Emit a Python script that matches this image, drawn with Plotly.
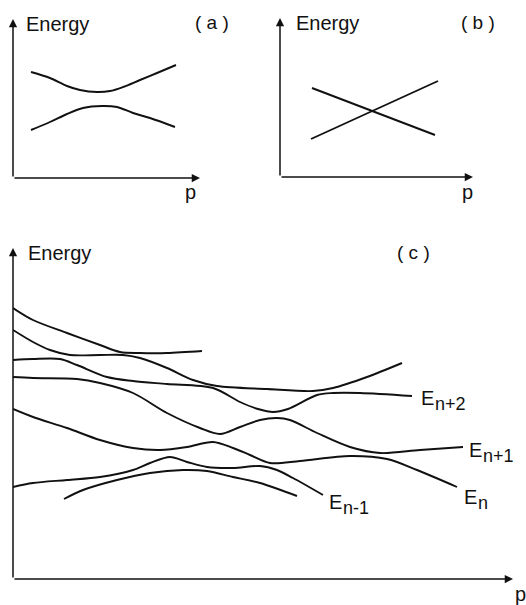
import plotly.graph_objects as go

# ---- (a) avoided crossing: two repelling levels (arbitrary units) ----
a_upper_p = [18, 37, 54, 67, 84, 97, 110, 127, 144, 163]
a_upper_E = [106, 100, 92, 88, 86, 87, 91, 98, 105, 113]
a_lower_p = [18, 37, 54, 70, 89, 104, 120, 137, 162]
a_lower_E = [48, 56, 64, 70, 72, 71, 65, 60, 51]

# ---- (b) true crossing: two straight levels ----
b_down_p = [32, 155]
b_down_E = [89, 42]
b_up_p = [31, 158]
b_up_E = [38, 96]

# ---- (c) many levels with successive avoided crossings ----
c_curves = {
    "A": ([0, 20, 54, 87, 107, 127, 154, 189],
          [271, 259, 246, 234, 227, 226, 226, 228]),
    "B": ([0, 20, 37, 57, 87, 110, 127, 154, 180, 204, 254, 300, 320, 354, 389],
          [249, 237, 229, 224, 224, 224, 221, 211, 199, 193, 190, 188, 191, 202, 216]),
    "E_n+2": ([0, 20, 47, 64, 94, 120, 154, 200, 227, 245, 260, 275, 304, 320, 347, 399],
              [219, 220, 220, 214, 202, 198, 195, 191, 177, 170, 167, 170, 184, 186, 186, 183]),
    "E_n+1": ([0, 20, 64, 87, 120, 154, 187, 207, 227, 247, 264, 277, 304, 337, 367, 407, 450],
              [202, 201, 200, 196, 186, 166, 151, 145, 152, 159, 161, 159, 146, 132, 126, 129, 132]),
    "E_n": ([0, 20, 54, 87, 120, 147, 174, 200, 220, 237, 257, 287, 337, 374, 404, 444],
            [170, 162, 151, 139, 131, 129, 132, 137, 131, 124, 116, 118, 123, 120, 109, 92]),
    "E_n-1": ([0, 20, 54, 87, 120, 137, 157, 174, 194, 220, 247, 264, 280, 310],
              [92, 96, 99, 102, 109, 116, 122, 117, 112, 111, 113, 109, 101, 84]),
    "G": ([51, 70, 104, 137, 170, 194, 220, 247, 284],
          [80, 89, 99, 106, 109, 108, 102, 96, 83]),
}

# level labels: (main, subscript, p, E)
c_labels = [
    ("E", "n+2", 407, 183),
    ("E", "n+1", 455, 131),
    ("E", "n", 450, 84),
    ("E", "n-1", 315, 79),
]

W, H = 526, 605
FONT = "Liberation Sans, Arial, sans-serif"
INK = "#111111"


def px_dom_x(x0, x1):
    return [x0 / W, x1 / W]


def px_dom_y(top, bottom):
    return [1 - bottom / H, 1 - top / H]


fig = go.Figure()

line_style = dict(color=INK, width=1.9, shape="spline", smoothing=0.9)

for p, E in [(a_upper_p, a_upper_E), (a_lower_p, a_lower_E)]:
    fig.add_trace(go.Scatter(x=p, y=E, mode="lines", line=line_style,
                             xaxis="x", yaxis="y", hoverinfo="skip"))
for p, E in [(b_down_p, b_down_E), (b_up_p, b_up_E)]:
    fig.add_trace(go.Scatter(x=p, y=E, mode="lines", line=dict(color=INK, width=1.9),
                             xaxis="x2", yaxis="y2", hoverinfo="skip"))
for name, (p, E) in c_curves.items():
    fig.add_trace(go.Scatter(x=p, y=E, mode="lines", line=line_style, name=name,
                             xaxis="x3", yaxis="y3", hoverinfo="skip"))

hidden = dict(showgrid=False, zeroline=False, showline=False, showticklabels=False,
              ticks="", fixedrange=True)

fig.update_layout(
    width=W, height=H,
    margin=dict(l=0, r=0, t=0, b=0),
    paper_bgcolor="white", plot_bgcolor="rgba(0,0,0,0)",
    showlegend=False,
    xaxis=dict(domain=px_dom_x(13, 213), range=[0, 200], anchor="y", **hidden),
    yaxis=dict(domain=px_dom_y(10, 178), range=[0, 168], anchor="x", **hidden),
    xaxis2=dict(domain=px_dom_x(280, 500), range=[0, 220], anchor="y2", **hidden),
    yaxis2=dict(domain=px_dom_y(10, 177), range=[0, 167], anchor="x2", **hidden),
    xaxis3=dict(domain=px_dom_x(13, 526), range=[0, 513], anchor="y3", **hidden),
    yaxis3=dict(domain=px_dom_y(240, 579), range=[0, 339], anchor="x3", **hidden),
)

annotations = []


def axis_arrows(xr, yr, x_end, y_end):
    for (x, y) in [(x_end, 0), (0, y_end)]:
        annotations.append(dict(
            xref=xr, yref=yr, axref=xr, ayref=yr, x=x, y=y, ax=0, ay=0,
            text="", showarrow=True, arrowhead=2, arrowsize=1.1, arrowwidth=1.5,
            arrowcolor=INK, standoff=0, startstandoff=0))


axis_arrows("x", "y", 187, 159)
axis_arrows("x2", "y2", 193, 159)
axis_arrows("x3", "y3", 500, 331)


def paper_text(text, x, y, xanchor="left", size=20):
    annotations.append(dict(xref="paper", yref="paper", x=x / W, y=1 - y / H,
                            text=text, showarrow=False, xanchor=xanchor,
                            yanchor="middle", font=dict(family=FONT, size=size, color=INK)))


paper_text("Energy", 24, 24)
paper_text("( a )", 212, 23, "center", 19)
paper_text("p", 190, 192, "center")
paper_text("Energy", 294, 23)
paper_text("( b )", 478, 22, "center", 19)
paper_text("p", 468, 192, "center")
paper_text("Energy", 26, 253)
paper_text("( c )", 413, 252, "center", 19)
paper_text("p", 513, 594, "left")

# level labels: a full-size "E" followed by a lowered, nearly full-size index
for main, sub, p, E in c_labels:
    annotations.append(dict(xref="x3", yref="y3", x=p, y=E, text=main,
                            showarrow=False, xanchor="left", yanchor="middle",
                            xshift=-1, yshift=-2,
                            font=dict(family=FONT, size=20, color=INK)))
    annotations.append(dict(xref="x3", yref="y3", x=p, y=E, text=sub,
                            showarrow=False, xanchor="left", yanchor="middle",
                            xshift=13, yshift=-8,
                            font=dict(family=FONT, size=18, color=INK)))

fig.update_layout(annotations=annotations)

fig.write_html("out.html")
